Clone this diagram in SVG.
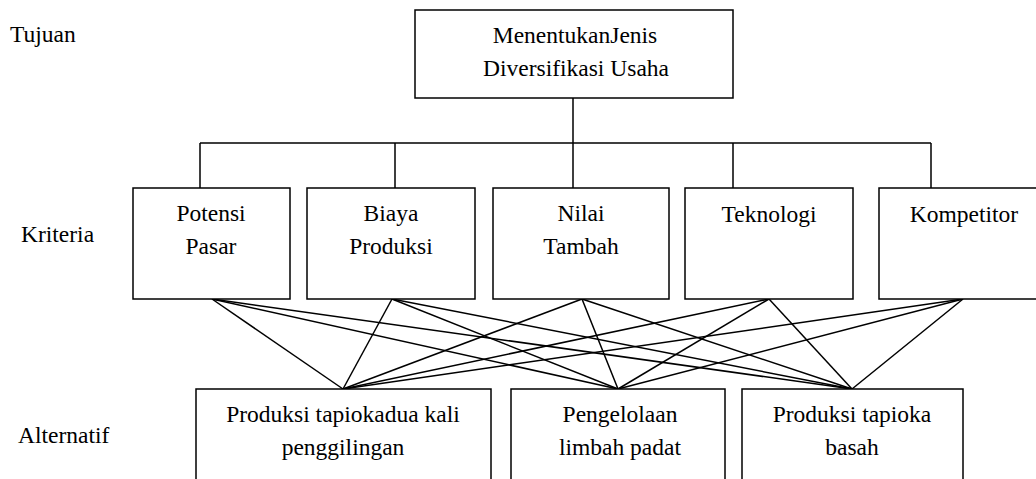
<svg xmlns="http://www.w3.org/2000/svg" width="1036" height="479" viewBox="0 0 1036 479">
<style>
text{font-family:"Liberation Serif",Tinos,"Times New Roman",Times,"Noto Serif","DejaVu Serif",FreeSerif,serif;font-size:23.5px;fill:#000}
.c{text-anchor:middle}
.box{fill:#fff;stroke:#000;stroke-width:1.5}
#connectors line,#connectors path{stroke:#000;stroke-width:1.5;fill:none}
</style>
<rect x="0" y="0" width="1036" height="479" fill="#fff"/>
<g id="levels">
<text x="10" y="42">Tujuan</text>
<text x="21" y="242">Kriteria</text>
<text x="18" y="443">Alternatif</text>
</g>
<g id="connectors">
<path d="M573,98 V143 M200,143 H931 M200,143 V188 M395,143 V188 M573,143 V188 M733,143 V188 M931,143 V188"/>
<line x1="212" y1="299" x2="343" y2="389"/><line x1="212" y1="299" x2="618" y2="389"/><line x1="212" y1="299" x2="852" y2="389"/>
<line x1="392" y1="299" x2="343" y2="389"/><line x1="392" y1="299" x2="618" y2="389"/><line x1="392" y1="299" x2="852" y2="389"/>
<line x1="582" y1="299" x2="343" y2="389"/><line x1="582" y1="299" x2="618" y2="389"/><line x1="582" y1="299" x2="852" y2="389"/>
<line x1="769" y1="299" x2="343" y2="389"/><line x1="769" y1="299" x2="618" y2="389"/><line x1="769" y1="299" x2="852" y2="389"/>
<line x1="963" y1="299" x2="343" y2="389"/><line x1="963" y1="299" x2="618" y2="389"/><line x1="963" y1="299" x2="852" y2="389"/>
</g>
<g id="goal"><rect class="box" x="415" y="10" width="318" height="88"/><text class="c" x="575" y="43">MenentukanJenis</text><text class="c" x="576" y="76">Diversifikasi Usaha</text></g>
<g id="k1"><rect class="box" x="133" y="188" width="157" height="111"/><text class="c" x="211" y="221">Potensi</text><text class="c" x="211" y="254">Pasar</text></g>
<g id="k2"><rect class="box" x="307" y="188" width="168" height="111"/><text class="c" x="391" y="221">Biaya</text><text class="c" x="391" y="254">Produksi</text></g>
<g id="k3"><rect class="box" x="493" y="188" width="176" height="111"/><text class="c" x="581" y="221">Nilai</text><text class="c" x="581" y="254">Tambah</text></g>
<g id="k4"><rect class="box" x="685" y="188" width="168" height="111"/><text class="c" x="769" y="222">Teknologi</text></g>
<g id="k5"><rect class="box" x="879" y="188" width="170" height="111"/><text class="c" x="964" y="222">Kompetitor</text></g>
<g id="a1"><rect class="box" x="196" y="389" width="295" height="110"/><text class="c" x="343" y="422">Produksi tapiokadua kali</text><text class="c" x="343" y="455">penggilingan</text></g>
<g id="a2"><rect class="box" x="511" y="389" width="214" height="110"/><text class="c" x="620" y="422">Pengelolaan</text><text class="c" x="620" y="455">limbah padat</text></g>
<g id="a3"><rect class="box" x="742" y="389" width="221" height="110"/><text class="c" x="852" y="422">Produksi tapioka</text><text class="c" x="852" y="455">basah</text></g>
</svg>
